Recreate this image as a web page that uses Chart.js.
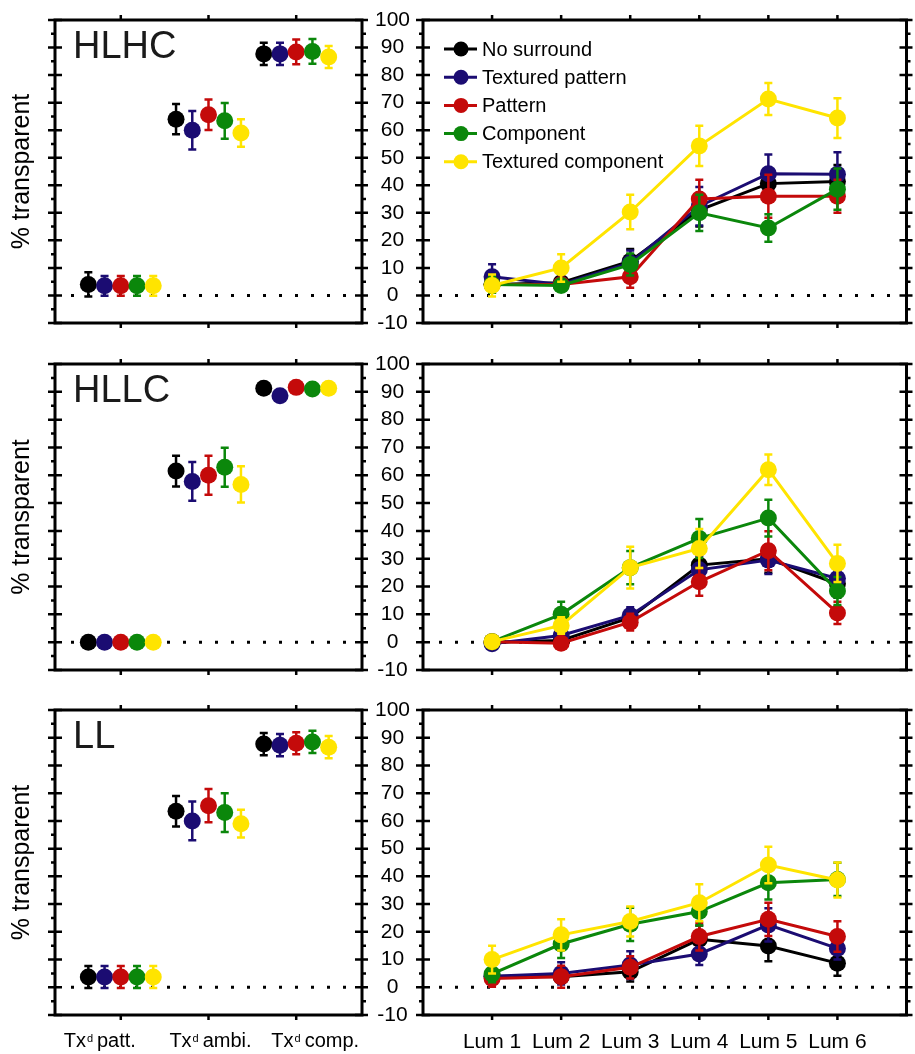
<!DOCTYPE html>
<html>
<head>
<meta charset="utf-8">
<script src="https://cdn.jsdelivr.net/npm/chart.js@4/dist/chart.umd.min.js"></script>
<style>
  body { margin: 0; background: #fff; }
  #figure { position: relative; width: 915px; height: 1054px; overflow: hidden; }
  #figure canvas { position: absolute; }
</style>
</head>
<body>
<div id="figure"></div>
<script>
// serie, stesso ordine della legenda
const seriesNames = ['No surround', 'Textured pattern', 'Pattern', 'Component', 'Textured component'];
const seriesColors = ['#000000', '#1b0c72', '#c40a0a', '#0b870b', '#ffe400'];
const panelNames = ['HLHC', 'HLLC', 'LL'];
const groupLabels = ['patt.', 'ambi.', 'comp.'];
const lumLabels = ['Lum 1', 'Lum 2', 'Lum 3', 'Lum 4', 'Lum 5', 'Lum 6'];
const yMin = -10;
const yMax = 100;

// pannelli di sinistra: per ogni serie i valori di Tx patt. / ambi. / comp.
const hlhcGroupMean = [[4, 64, 87.7], [3.5, 60, 87.7], [3.5, 65.6, 88.4], [3.5, 63.4, 88.6], [3.5, 59, 86.6]];
const hlhcGroupErr = [[4.4, 5.5, 4], [3.6, 7, 4], [3.6, 5.5, 4.5], [3.6, 6.5, 4.5], [3.6, 5, 4]];
const hllcGroupMean = [[0, 61.5, 91.3], [0, 57.8, 88.6], [0, 60, 91.6], [0, 62.9, 91], [0, 56.7, 91.3]];
const hllcGroupErr = [[0, 5.5, 0], [0, 7, 0], [0, 7, 0], [0, 7, 0], [0, 6.5, 0]];
const llGroupMean = [[3.7, 63.5, 87.7], [3.7, 60, 87.3], [3.7, 65.5, 88], [3.7, 63, 88.5], [3.7, 59, 86.6]];
const llGroupErr = [[4, 5.5, 4], [4, 7, 4], [4, 6, 4], [4, 7, 4], [4, 5, 4]];

// pannelli di destra: per ogni serie i valori Lum 1..6
const hlhcLumMean = [[4, 4.6, 12.4, 31, 40.6, 41.4], [6.8, 4, 11.8, 32.4, 44.2, 44], [4, 4, 6.8, 35, 36, 36], [4, 3.6, 11.2, 30, 24.5, 38.6], [3.6, 10, 30.3, 54.3, 71.3, 64.4]];
const hlhcLumErr = [[3, 2, 4.5, 6, 5, 6], [4.5, 2, 4.5, 7, 7, 8], [3, 2, 4, 7, 7.8, 6], [3, 2, 4, 6.6, 5, 7.5], [4, 5, 6.3, 7.3, 5.8, 7.2]];
const hllcLumMean = [[0, 0.6, 8.8, 27.7, 30, 21], [-0.6, 2.4, 9.6, 26, 29.5, 22.9], [0.2, -0.4, 7.2, 21.7, 32.9, 10.5], [0.2, 10, 26.8, 37.3, 44.6, 18.4], [0.2, 6, 26.8, 33.7, 62, 28.3]];
const hllcLumErr = [[0, 1.5, 3, 5, 5, 5], [0, 1.5, 3, 5, 5, 4], [0, 0, 3, 5, 7, 4], [0, 4.5, 6, 7, 6.6, 5], [0, 3, 7.5, 7, 5.5, 6.7]];
const llLumMean = [[4, 3.8, 5.6, 17.3, 14.9, 8.7], [4, 5, 8, 12, 22.5, 14], [3.2, 3.8, 7.2, 18.3, 24.5, 18.3], [4.8, 15.6, 22.7, 27.3, 37.7, 38.9], [10, 18.9, 23.7, 30.5, 44.1, 38.7]];
const llLumErr = [[2, 2, 3.5, 5, 5.5, 4.5], [2, 4, 5, 4, 6, 4], [3, 4, 4, 5, 6, 5.5], [3, 5, 6, 5, 6, 6], [5, 5.6, 5.4, 6.7, 6.6, 6.3]];

let groupMeans = [hlhcGroupMean, hllcGroupMean, llGroupMean];
let groupErrs = [hlhcGroupErr, hllcGroupErr, llGroupErr];
let lumMeans = [hlhcLumMean, hllcLumMean, llLumMean];
let lumErrs = [hlhcLumErr, hllcLumErr, llLumErr];

// spostamento orizzontale dei 5 punti dentro ogni gruppo
let dodge = [-0.37, -0.185, 0, 0.185, 0.37];

// geometria: bordo alto/basso dei riquadri per riga
let plotTop = [20, 364, 710];
let plotBottom = [323, 670, 1015];
let FONT = "'Liberation Sans', Arial, sans-serif";
Chart.defaults.font.family = FONT;
Chart.defaults.color = '#000';

/* linea tratteggiata sullo zero, sotto ai punti */
const zeroLine = {
  id: 'zeroLine',
  beforeDatasetsDraw(chart) {
    let ctx = chart.ctx, a = chart.chartArea;
    let y0 = chart.scales.y.getPixelForValue(0);
    ctx.save();
    ctx.strokeStyle = '#000';
    ctx.lineWidth = 3;
    ctx.setLineDash([3, 13]);
    ctx.beginPath();
    ctx.moveTo(a.left + 16, y0);
    ctx.lineTo(a.right - 4, y0);
    ctx.stroke();
    ctx.restore();
  }
};

/* barre d'errore disegnate prima di ogni dataset, cosi' il pallino ci sta sopra */
const errorBars = {
  id: 'errorBars',
  beforeDatasetDraw(chart, args) {
    let ds = chart.data.datasets[args.index];
    let y = chart.scales.y, ctx = chart.ctx;
    ctx.save();
    ctx.strokeStyle = ds.borderColor;
    ctx.lineWidth = 2.5;
    ctx.beginPath();
    args.meta.data.forEach((pt, i) => {
      let e = ds.errors[i];
      if (!e) return;
      let v = ds.data[i].y;
      let top = y.getPixelForValue(v + e);
      let bot = y.getPixelForValue(v - e);
      ctx.moveTo(pt.x, top); ctx.lineTo(pt.x, bot);
      ctx.moveTo(pt.x - 4, top); ctx.lineTo(pt.x + 4, top);
      ctx.moveTo(pt.x - 4, bot); ctx.lineTo(pt.x + 4, bot);
    });
    ctx.stroke();
    ctx.restore();
  }
};

/* cornice con le tacche: maggiori ogni 10 (dentro e fuori), minori ogni 5 */
const frame = {
  id: 'frame',
  afterDatasetsDraw(chart, args, opts) {
    let ctx = chart.ctx, a = chart.chartArea;
    let x = chart.scales.x, y = chart.scales.y;
    ctx.save();
    ctx.strokeStyle = '#000';
    ctx.lineWidth = 3;
    ctx.strokeRect(a.left, a.top, a.right - a.left, a.bottom - a.top);
    ctx.lineWidth = 2.5;
    ctx.beginPath();
    y.ticks.forEach(t => {
      let py = y.getPixelForValue(t.value);
      ctx.moveTo(a.left - 7, py); ctx.lineTo(a.left + 7, py);
      ctx.moveTo(a.right - 7, py); ctx.lineTo(a.right + 6, py);
      if (t.value < yMax) {
        let pm = y.getPixelForValue(t.value + 5);
        ctx.moveTo(a.left - 4, pm); ctx.lineTo(a.left, pm);
        ctx.moveTo(a.right, pm); ctx.lineTo(a.right + 4, pm);
      }
    });
    opts.marks.forEach(v => {
      let px = x.getPixelForValue(v);
      ctx.moveTo(px, a.top - 5); ctx.lineTo(px, a.top);
      ctx.moveTo(px, a.bottom); ctx.lineTo(px, a.bottom + 5);
    });
    ctx.stroke();
    ctx.restore();
  }
};

/* nome del pannello in alto a sinistra */
const panelName = {
  id: 'panelName',
  afterDraw(chart, args, opts) {
    if (!opts.text) return;
    let ctx = chart.ctx, a = chart.chartArea;
    ctx.save();
    ctx.fillStyle = '#1a1a1a';
    ctx.font = '38px ' + FONT;
    ctx.textBaseline = 'alphabetic';
    ctx.fillText(opts.text, a.left + 18, a.top + 38);
    ctx.restore();
  }
};

/* etichette "Tx^d ..." sotto l'ultimo pannello di sinistra */
const groupAxis = {
  id: 'groupAxis',
  afterDraw(chart, args, opts) {
    if (!opts.show) return;
    let ctx = chart.ctx, a = chart.chartArea, x = chart.scales.x;
    let shift = [-21, 2, 19];
    ctx.save();
    ctx.fillStyle = '#000';
    ctx.textBaseline = 'alphabetic';
    groupLabels.forEach((lab, i) => {
      ctx.font = '20px ' + FONT;
      let wTx = ctx.measureText('Tx').width;
      let wLab = ctx.measureText(lab).width;
      ctx.font = '11px ' + FONT;
      let wD = ctx.measureText('d').width;
      let total = wTx + 1 + wD + 4 + wLab;
      let left = x.getPixelForValue(i + 1) + shift[i] - total / 2;
      let base = a.bottom + 32;
      ctx.font = '20px ' + FONT;
      ctx.fillText('Tx', left, base);
      ctx.fillText(lab, left + wTx + 1 + wD + 4, base);
      ctx.font = '11px ' + FONT;
      ctx.fillText('d', left + wTx + 1, base - 5);
    });
    ctx.restore();
  }
};

/* legenda dentro il primo pannello di destra */
const sideLegend = {
  id: 'sideLegend',
  afterDatasetsDraw(chart, args, opts) {
    if (!opts.show) return;
    let ctx = chart.ctx, a = chart.chartArea;
    ctx.save();
    chart.data.datasets.forEach((ds, i) => {
      let yy = a.top + 29 + i * 28.2;
      ctx.strokeStyle = ds.borderColor;
      ctx.lineWidth = 3;
      ctx.beginPath();
      ctx.moveTo(a.left + 21, yy);
      ctx.lineTo(a.left + 54, yy);
      ctx.stroke();
      ctx.fillStyle = ds.backgroundColor;
      ctx.beginPath();
      ctx.arc(a.left + 38, yy, 7.5, 0, 2 * Math.PI);
      ctx.fill();
      ctx.fillStyle = '#000';
      ctx.font = '20px ' + FONT;
      ctx.textBaseline = 'middle';
      ctx.fillText(ds.label, a.left + 59, yy + 1);
    });
    ctx.restore();
  }
};

function makeCanvas(left, top, width, height) {
  let c = document.createElement('canvas');
  c.width = width;
  c.height = height;
  c.style.left = left + 'px';
  c.style.top = top + 'px';
  document.getElementById('figure').appendChild(c);
  return c;
}

function yAxis(extra) {
  return Object.assign({
    min: yMin,
    max: yMax,
    grid: { display: false, drawTicks: false },
    border: { display: false }
  }, extra);
}

function leftChart(row) {
  let h = plotBottom[row] - plotTop[row];
  let c = makeCanvas(0, plotTop[row] - 20, 380, h + 59);
  let datasets = seriesNames.map((name, s) => ({
    label: name,
    data: groupMeans[row][s].map((v, g) => ({ x: g + 1 + dodge[s], y: v })),
    errors: groupErrs[row][s],
    showLine: false,
    pointRadius: 8.5,
    pointBorderWidth: 0,
    backgroundColor: seriesColors[s],
    borderColor: seriesColors[s],
    order: 5 - s
  }));
  new Chart(c, {
    type: 'line',
    data: { datasets: datasets },
    options: {
      responsive: false, animation: false, devicePixelRatio: 1,
      events: [],
      layout: { padding: { left: 0, top: 20, right: 380 - 362, bottom: 39 } },
      plugins: {
        legend: { display: false }, tooltip: { enabled: false },
        frame: { marks: [1, 2, 3] },
        panelName: { text: panelNames[row] },
        groupAxis: { show: row === 2 },
        sideLegend: { show: false }
      },
      scales: {
        x: { type: 'linear', display: false, min: 0.25, max: 3.75 },
        y: yAxis({
          ticks: { display: false, stepSize: 10, autoSkip: false },
          title: { display: true, text: '% transparent', font: { size: 25 }, color: '#000', padding: { top: 7, bottom: 4 } },
          afterFit: s => { s.width = 55; }
        })
      }
    },
    plugins: [zeroLine, errorBars, frame, panelName, groupAxis, sideLegend]
  });
}

function rightChart(row) {
  let h = plotBottom[row] - plotTop[row];
  let c = makeCanvas(362, plotTop[row] - 20, 553, h + 59);
  let datasets = seriesNames.map((name, s) => ({
    label: name,
    data: lumMeans[row][s].map((v, i) => ({ x: i + 1, y: v })),
    errors: lumErrs[row][s],
    borderWidth: 3,
    tension: 0,
    pointRadius: 8.5,
    pointBorderWidth: 0,
    backgroundColor: seriesColors[s],
    borderColor: seriesColors[s],
    order: 5 - s
  }));
  let showX = row === 2;
  new Chart(c, {
    type: 'line',
    data: { datasets: datasets },
    options: {
      responsive: false, animation: false, devicePixelRatio: 1,
      events: [],
      layout: { padding: { left: 0, top: 20, right: 553 - (910 - 362), bottom: 0 } },
      plugins: {
        legend: { display: false }, tooltip: { enabled: false },
        frame: { marks: [1, 2, 3, 4, 5, 6] },
        panelName: { text: '' },
        groupAxis: { show: false },
        sideLegend: { show: row === 0 }
      },
      scales: {
        x: {
          type: 'linear', min: 0, max: 7,
          // le tacche vere le disegna il plugin frame; qui tickLength serve solo a spostare le etichette
          grid: { display: false, drawTicks: true, tickLength: 15 },
          border: { display: false },
          ticks: {
            display: showX,
            stepSize: 1, autoSkip: false, maxRotation: 0, padding: 0,
            font: { size: 21 }, color: '#000',
            callback: v => lumLabels[v - 1] || ''
          },
          afterFit: s => { s.height = 39; }
        },
        y: yAxis({
          grid: { display: false, drawTicks: true, tickLength: 13 },
          ticks: { stepSize: 10, autoSkip: false, font: { size: 21 }, color: '#000', crossAlign: 'center', padding: 0 },
          afterFit: s => { s.width = 61; }
        })
      }
    },
    plugins: [zeroLine, errorBars, frame, panelName, groupAxis, sideLegend]
  });
}

for (let r = 0; r < 3; r++) {
  leftChart(r);
  rightChart(r);
}
</script>
</body>
</html>
